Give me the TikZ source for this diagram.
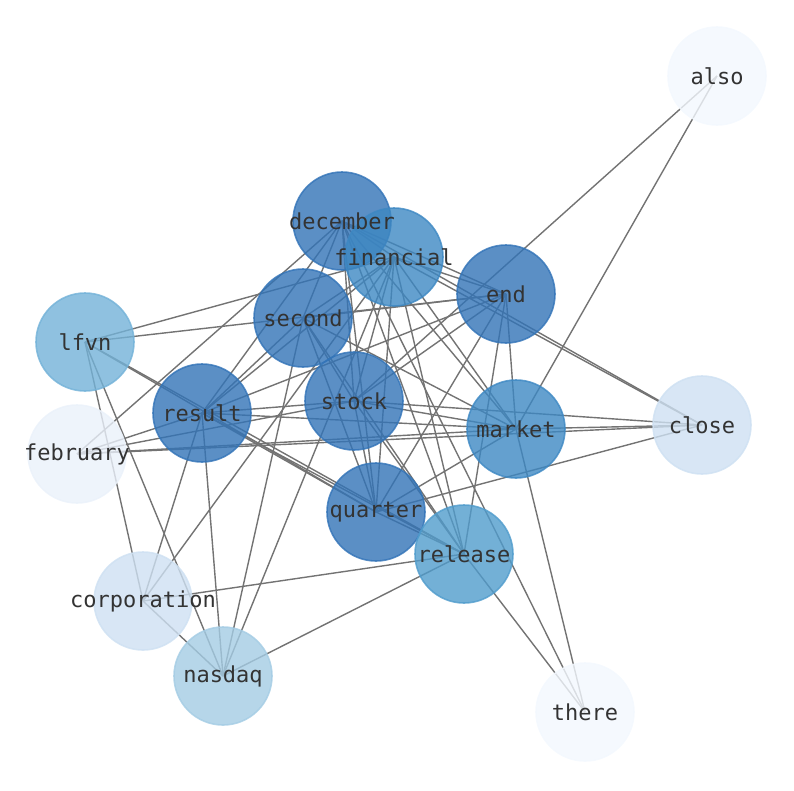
\documentclass[tikz,border=0pt]{standalone}
\usepackage{fontspec}
\setmonofont{DejaVu Sans Mono}
\usetikzlibrary{backgrounds}
\definecolor{degdark}{RGB}{50,115,183}
\definecolor{degmid}{RGB}{61,136,195}
\definecolor{degrel}{RGB}{80,156,204}
\definecolor{deglfvn}{RGB}{115,178,216}
\definecolor{degnas}{RGB}{164,204,228}
\definecolor{deglow}{RGB}{206,224,242}
\definecolor{degfeb}{RGB}{234,241,250}
\definecolor{degmin}{RGB}{243,248,254}
\definecolor{linkgray}{RGB}{115,115,115}

\begin{document}
\begin{tikzpicture}[x=1pt,y=-1pt,
  word/.style={circle,minimum size=98pt,inner sep=0pt,fill=#1,draw=#1,line width=1.6pt,
    fill opacity=0.8,draw opacity=0.8},
  wordtext/.style={inner sep=0pt,text=black!80,
    font=\ttfamily\fontsize{22}{26}\selectfont},
  link/.style={draw=linkgray,line width=1.4pt}]
  \useasboundingbox (0,0) rectangle (794,790);
  \node[word=degmin] (also) at (717,76) {};
  \node[word=degdark] (december) at (342,221) {};
  \node[word=degmid] (financial) at (394,257) {};
  \node[word=degdark] (end) at (506,294) {};
  \node[word=degdark] (second) at (303,318) {};
  \node[word=deglfvn] (lfvn) at (85,342) {};
  \node[word=degdark] (result) at (202,413) {};
  \node[word=degdark] (stock) at (354,401) {};
  \node[word=degmid] (market) at (516,429) {};
  \node[word=deglow] (close) at (702,425) {};
  \node[word=degfeb] (february) at (77,454) {};
  \node[word=degdark] (quarter) at (376,512) {};
  \node[word=degrel] (release) at (464,554) {};
  \node[word=deglow] (corporation) at (143,601) {};
  \node[word=degnas] (nasdaq) at (223,676) {};
  \node[word=degmin] (there) at (585,712) {};
  % words on top of every circle
  \foreach \w in {also,december,financial,end,second,lfvn,result,stock,market,
    close,february,quarter,release,corporation,nasdaq,there}
    \node[wordtext] (\w-txt) at (\w) {\w};
  % links, behind the words
  \begin{scope}[on background layer]
    \foreach \a/\b in {also/stock,also/market,there/december,there/release,there/market,
      close/december,close/financial,close/stock,close/market,close/february,close/quarter,
      lfvn/financial,lfvn/end,lfvn/quarter,lfvn/release,lfvn/corporation,lfvn/nasdaq,
      february/december,february/result,february/stock,february/market,
      corporation/result,corporation/financial,corporation/release,corporation/nasdaq,
      nasdaq/result,nasdaq/second,nasdaq/financial,nasdaq/release,
      december/financial,december/second,december/result,december/stock,december/quarter,
      december/end,december/market,december/release,
      financial/second,financial/result,financial/stock,financial/quarter,financial/end,
      financial/market,financial/release,
      end/second,end/result,end/stock,end/quarter,end/market,end/release,
      second/result,second/stock,second/quarter,second/market,second/release,
      result/stock,result/market,result/quarter,result/release,
      stock/market,stock/quarter,stock/release,market/quarter,quarter/release}
      \draw[link] (\a.center) -- (\b.center);
  \end{scope}
\end{tikzpicture}
\end{document}
